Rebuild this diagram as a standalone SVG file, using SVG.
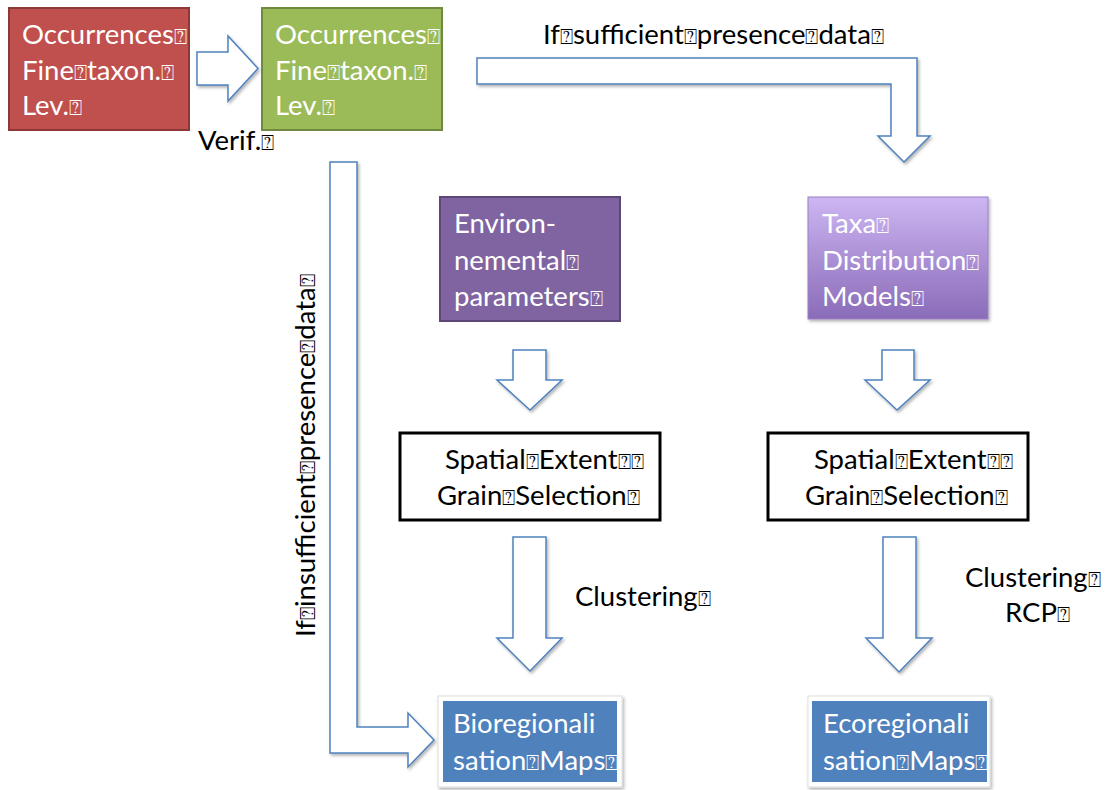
<svg xmlns="http://www.w3.org/2000/svg" width="1109" height="790" viewBox="0 0 1109 790">
<style>
.t{font-family:Lato,"Liberation Sans",sans-serif;font-size:27.5px;fill:#000}
.w{fill:#fff}
.q{font-family:"DejaVu Sans",sans-serif;font-size:22px}
.arr{fill:#fff;stroke:#4F81BD;stroke-width:1.5;filter:url(#sh)}
</style>
<defs>
<filter id="sh" x="-20%" y="-20%" width="140%" height="140%">
<feDropShadow dx="1.5" dy="2" stdDeviation="1.5" flood-color="#000" flood-opacity="0.3"/>
</filter>
<linearGradient id="gp" x1="0" y1="0" x2="0" y2="1">
<stop offset="0" stop-color="#CDB6F2"/>
<stop offset="1" stop-color="#8A6BB8"/>
</linearGradient>
</defs>

<g id="connectors">
<path class="arr" d="M197,52 H228 V36 L258,68.5 L228,101 V85 H197 Z"/>
<path class="arr" d="M477,58 H917 V136 H930 L904,162 L878,136 H891 V84 H477 Z"/>
<path class="arr" d="M330,162 H357 V727 H408 V713 L434,740 L408,767 V753 H330 Z"/>
<path class="arr" d="M513,350 H546 V380 H562 L530,410 L497,380 H513 Z"/>
<path class="arr" d="M882,350 H914 V380 H930 L897,410 L865,380 H882 Z"/>
<path class="arr" d="M513,537 H546 V638 H562 L530,671 L497,638 H513 Z"/>
<path class="arr" d="M883,537 H916 V638 H932 L899,672 L866,638 H883 Z"/>
<text class="t" x="198" y="150">Verif.<tspan class="q">⍰</tspan></text>
<text class="t" x="543" y="44">If<tspan class="q">⍰</tspan>sufficient<tspan class="q">⍰</tspan>presence<tspan class="q">⍰</tspan>data<tspan class="q">⍰</tspan></text>
<text class="t" transform="translate(315,637) rotate(-90)">If<tspan class="q">⍰</tspan>insufficient<tspan class="q">⍰</tspan>presence<tspan class="q">⍰</tspan>data<tspan class="q">⍰</tspan></text>
<text class="t" x="575" y="606">Clustering<tspan class="q">⍰</tspan></text>
<text class="t" x="965" y="587">Clustering<tspan class="q">⍰</tspan></text>
<text class="t" x="1005" y="622">RCP<tspan class="q">⍰</tspan></text>
</g>

<g id="occ-raw">
<rect x="9" y="8" width="180" height="122" fill="#C0504D" stroke="#8C3836" stroke-width="2"/>
<text class="t w"><tspan x="22" y="44">Occurrences<tspan class="q">⍰</tspan></tspan><tspan x="22" y="80">Fine<tspan class="q">⍰</tspan>taxon.<tspan class="q">⍰</tspan></tspan><tspan x="22" y="115">Lev.<tspan class="q">⍰</tspan></tspan></text>
</g>

<g id="occ-verified">
<rect x="262" y="8" width="180" height="122" fill="#9BBB59" stroke="#71893F" stroke-width="2"/>
<text class="t w"><tspan x="275" y="44">Occurrences<tspan class="q">⍰</tspan></tspan><tspan x="275" y="80">Fine<tspan class="q">⍰</tspan>taxon.<tspan class="q">⍰</tspan></tspan><tspan x="275" y="115">Lev.<tspan class="q">⍰</tspan></tspan></text>
</g>

<g id="env">
<rect x="440" y="197" width="180" height="124" fill="#8064A2" stroke="#5C4776" stroke-width="2"/>
<text class="t w"><tspan x="454" y="233">Environ-</tspan><tspan x="454" y="270">nemental<tspan class="q">⍰</tspan></tspan><tspan x="454" y="306">parameters<tspan class="q">⍰</tspan></tspan></text>
</g>

<g id="tdm">
<rect x="808" y="197" width="180" height="122" fill="url(#gp)" stroke="#9A80C4" stroke-width="1" filter="url(#sh)"/>
<text class="t w"><tspan x="822" y="233">Taxa<tspan class="q">⍰</tspan></tspan><tspan x="822" y="270">Distribution<tspan class="q">⍰</tspan></tspan><tspan x="822" y="306">Models<tspan class="q">⍰</tspan></tspan></text>
</g>

<g id="grain-left">
<rect x="400" y="433" width="260" height="87" fill="#fff" stroke="#000" stroke-width="3"/>
<text class="t"><tspan x="445" y="469">Spatial<tspan class="q">⍰</tspan>Extent<tspan class="q">⍰⍰</tspan></tspan><tspan x="437" y="505">Grain<tspan class="q">⍰</tspan>Selection<tspan class="q">⍰</tspan></tspan></text>
</g>

<g id="grain-right">
<rect x="768" y="433" width="260" height="87" fill="#fff" stroke="#000" stroke-width="3"/>
<text class="t"><tspan x="814" y="469">Spatial<tspan class="q">⍰</tspan>Extent<tspan class="q">⍰⍰</tspan></tspan><tspan x="805" y="505">Grain<tspan class="q">⍰</tspan>Selection<tspan class="q">⍰</tspan></tspan></text>
</g>

<g id="bioreg">
<rect x="438" y="696" width="184" height="91" fill="#fff" stroke="#ddd" stroke-width="1" filter="url(#sh)"/>
<rect x="443" y="701" width="174" height="81" fill="#4F81BD"/>
<text class="t w"><tspan x="453" y="733">Bioregionali</tspan><tspan x="453" y="770">sation<tspan class="q">⍰</tspan>Maps<tspan class="q">⍰</tspan></tspan></text>
</g>

<g id="ecoreg">
<rect x="808" y="696" width="182" height="91" fill="#fff" stroke="#ddd" stroke-width="1" filter="url(#sh)"/>
<rect x="812" y="701" width="175" height="81" fill="#4F81BD"/>
<text class="t w"><tspan x="823" y="733">Ecoregionali</tspan><tspan x="823" y="770">sation<tspan class="q">⍰</tspan>Maps<tspan class="q">⍰</tspan></tspan></text>
</g>
</svg>
